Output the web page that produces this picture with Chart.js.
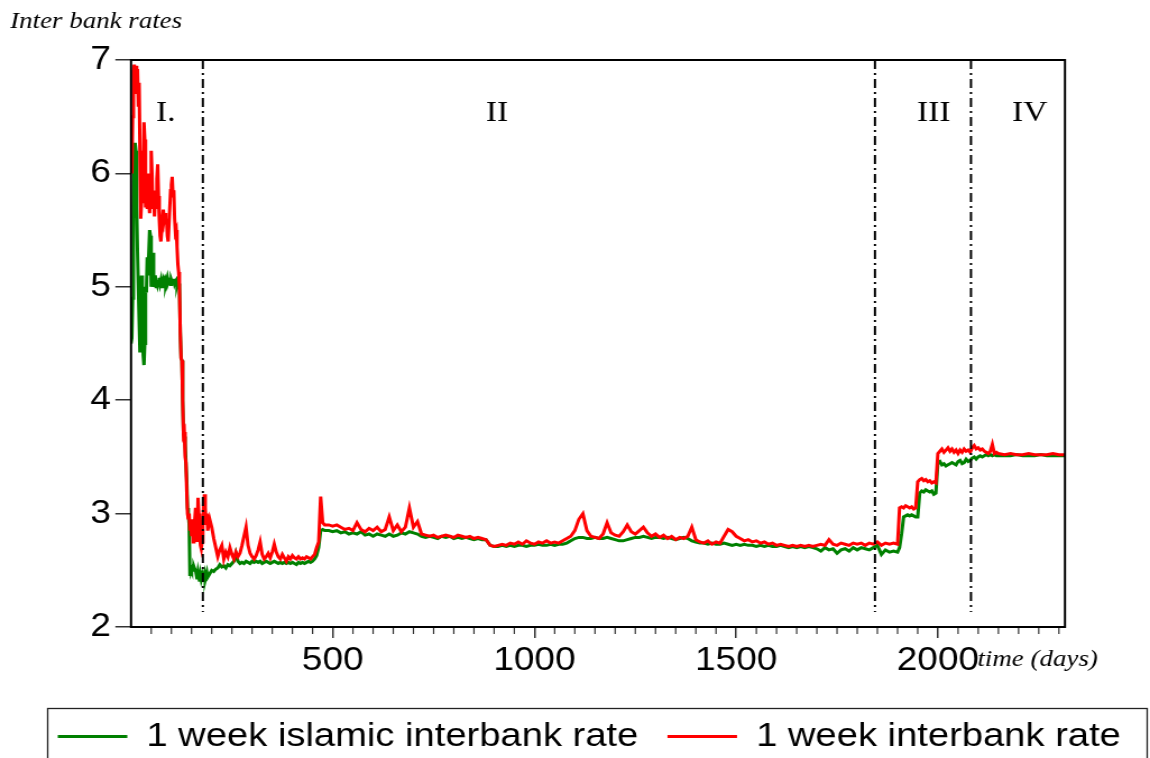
<!DOCTYPE html>
<html>
<head>
<meta charset="utf-8">
<script src="https://cdn.jsdelivr.net/npm/chart.js@4.4.0/dist/chart.umd.min.js"></script>
<style>
    html, body { margin: 0; padding: 0; background: #fff; overflow: hidden; }
</style>
</head>
<body>
<canvas id="graficoTaxas" width="1025" height="758" style="width:1150px;height:758px;display:block"></canvas>
<script>
// dias de cada período (eixo x)
const diasI = [
    0,2,4,6,8,10,12,14,16,18,20,22,24,26,28,30,
    32,34,36,38,40,42,44,46,48,50,52,54,56,58,60,62,
    64,66,68,70,72,74,76,78,80,82,84,86,88,90,92,94,
    96,98,100,102,104,106,108,110,112,114,116,118,120,122,124,126,
    128,130,132,134,136,138,140,142,144,146,148,150,152,154,156,158,
    160,162,164,166,168,170,172,174,176,178,180,182,184,186,188,190
];
const diasIIa = [
    195,200,205,210,215,220,225,230,235,240,245,250,255,260,265,270,
    275,280,285,290,295,300,305,310,315,320,325,330,335,340,345,350,
    355,360,365,370,375,380,385,390,395,400,405,410,415,420,425,430,
    435,440,445,450,455,460,465,470,475,480
];
const diasIIb = [
    490,500,510,520,530,540,550,560,570,580,
    590,600,610,620,630,640,650,660,670,680,
    690,700,710,720,730,740,750,760,770,780,
    790,800,810,820,830,840,850,860,870,880,
    890,900,910,920,930,940,950,960,970,980,
    990,1000,1010,1020,1030,1040,1050,1060,1070,1080,
    1090,1100,1110,1120,1130,1140,1150,1160,1170,1180,
    1190,1200,1210,1220,1230,1240,1250,1260,1270,1280,
    1290,1300,1310,1320,1330,1340,1350,1360,1370,1380,
    1390,1400,1410,1420,1430,1440,1450,1460,1470,1480,
    1490,1500,1510,1520,1530,1540,1550,1560,1570,1580,
    1590,1600,1610,1620,1630,1640,1650,1660,1670,1680,
    1690,1700,1710,1720,1730,1740,1750,1760,1770,1780,
    1790,1800,1810,1820,1830,1840,1850,1860,1870,1880,
    1890,1900
];
const diasIII = [
    1905,1910,1915,1920,1925,1930,1935,1940,1945,1950,
    1955,1960,1965,1970,1975,1980,1985,1990,1995,2000,
    2005,2010,2015,2020,2025,2030,2035,2040,2045,2050,
    2055,2060,2065,2070,2075,2080,2085,2090,2095,2100,
    2105,2110,2115,2120,2125,2130,2135,2140,2145,2150,
    2165,2180,2195,2210,2225,2240,2255,2270,2285,2300,2315
];

// 1 week islamic interbank rate
const islamicaI = [
    4.50,4.55,4.90,5.60,6.10,6.27,6.20,5.70,5.30,5.00,4.70,4.42,4.90,5.10,4.70,4.40,
    4.31,4.50,5.00,4.95,5.26,5.10,5.30,5.50,5.45,5.00,5.10,5.30,5.00,5.05,5.10,5.00,
    5.06,5.02,5.05,5.08,5.03,5.06,5.00,5.05,5.07,5.04,5.06,5.02,5.05,5.08,5.04,5.06,
    5.05,5.02,5.06,5.04,5.05,5.07,5.03,5.05,5.06,5.02,5.05,5.03,5.00,4.60,4.37,4.35,
    4.00,3.70,3.68,3.62,3.45,3.30,3.05,3.00,2.90,2.45,2.52,2.50,2.52,2.50,2.53,2.51,
    2.50,2.46,2.42,2.48,2.44,2.40,2.46,2.42,2.45,2.40,2.44,2.47,2.42,2.45,2.48,2.44
];
const islamicaIIa = [
    2.47,2.50,2.49,2.51,2.52,2.55,2.53,2.54,2.52,2.55,2.54,2.56,2.58,2.65,2.58,2.56,
    2.57,2.56,2.58,2.57,2.56,2.58,2.57,2.58,2.57,2.58,2.56,2.57,2.58,2.57,2.56,2.57,
    2.58,2.57,2.56,2.57,2.56,2.57,2.56,2.57,2.56,2.57,2.56,2.55,2.57,2.56,2.57,2.56,
    2.57,2.58,2.57,2.58,2.60,2.63,2.70,2.85,2.86,2.85
];
const islamicaIIb = [
    2.85,2.84,2.85,2.83,2.84,2.82,2.83,2.82,2.84,2.81,
    2.82,2.80,2.82,2.81,2.80,2.82,2.80,2.81,2.83,2.82,
    2.84,2.83,2.82,2.80,2.79,2.80,2.79,2.78,2.80,2.79,
    2.80,2.78,2.79,2.78,2.79,2.78,2.77,2.78,2.77,2.77,
    2.72,2.71,2.71,2.72,2.71,2.72,2.71,2.72,2.72,2.71,
    2.72,2.72,2.73,2.72,2.72,2.73,2.72,2.73,2.73,2.74,
    2.76,2.78,2.79,2.79,2.78,2.78,2.79,2.78,2.78,2.79,
    2.78,2.77,2.76,2.76,2.77,2.78,2.79,2.79,2.80,2.79,
    2.78,2.79,2.79,2.78,2.79,2.78,2.77,2.78,2.79,2.78,
    2.76,2.75,2.74,2.74,2.73,2.74,2.73,2.73,2.74,2.73,
    2.72,2.73,2.72,2.73,2.72,2.72,2.71,2.72,2.71,2.72,
    2.71,2.71,2.72,2.71,2.70,2.71,2.70,2.71,2.70,2.71,
    2.70,2.69,2.67,2.70,2.68,2.69,2.65,2.68,2.69,2.67,
    2.70,2.68,2.70,2.69,2.68,2.70,2.72,2.64,2.68,2.66,
    2.67,2.66
];
const islamicaIII = [
    2.70,2.82,2.97,2.98,2.99,2.98,2.99,2.98,2.97,2.97,
    3.18,3.20,3.19,3.21,3.20,3.19,3.20,3.17,3.18,3.45,
    3.46,3.43,3.44,3.42,3.43,3.44,3.45,3.44,3.43,3.46,
    3.47,3.44,3.45,3.48,3.46,3.47,3.49,3.50,3.48,3.50,
    3.51,3.50,3.51,3.52,3.51,3.52,3.51,3.52,3.51,3.51,
    3.51,3.51,3.52,3.51,3.51,3.51,3.52,3.51,3.51,3.51,3.51
];

// 1 week interbank rate
const interbancariaI = [
    6.10,6.00,6.50,6.90,6.96,6.85,6.95,6.70,6.92,6.60,6.80,6.20,5.60,5.75,6.20,5.90,
    6.45,6.30,5.70,5.90,5.70,6.00,5.75,5.65,5.80,6.20,6.00,5.70,5.85,5.62,5.80,5.70,
    5.95,6.08,5.80,5.60,5.45,5.40,5.50,5.62,5.68,5.60,5.65,5.55,5.60,5.45,5.40,5.55,
    5.70,5.85,5.90,5.97,5.80,5.85,5.60,5.48,5.50,5.35,5.20,5.13,5.00,4.60,4.37,4.35,
    4.00,3.70,3.72,3.50,3.45,3.20,3.00,2.95,3.00,2.85,2.95,2.80,2.92,2.75,2.85,2.95,
    3.05,2.90,2.75,3.14,3.00,2.80,2.72,2.69,2.75,2.90,3.10,3.17,3.05,2.90,3.00,2.85
];
const interbancariaIIa = [
    2.95,2.88,2.78,2.70,2.62,2.68,2.72,2.60,2.66,2.62,2.70,2.64,2.60,2.66,2.62,2.65,
    2.72,2.80,2.88,2.72,2.65,2.62,2.60,2.63,2.68,2.75,2.64,2.60,2.62,2.65,2.61,2.66,
    2.73,2.66,2.62,2.60,2.64,2.61,2.58,2.62,2.60,2.63,2.61,2.60,2.62,2.60,2.61,2.60,
    2.62,2.61,2.60,2.62,2.64,2.70,2.75,3.15,2.92,2.90
];
const interbancariaIIb = [
    2.90,2.89,2.90,2.88,2.86,2.87,2.85,2.92,2.86,2.84,
    2.87,2.85,2.88,2.84,2.86,2.97,2.85,2.90,2.84,2.88,
    3.05,2.88,2.93,2.82,2.81,2.80,2.81,2.79,2.80,2.81,
    2.80,2.79,2.81,2.80,2.79,2.80,2.78,2.79,2.78,2.77,
    2.72,2.71,2.72,2.73,2.72,2.74,2.73,2.75,2.73,2.76,
    2.74,2.73,2.75,2.74,2.76,2.74,2.75,2.74,2.76,2.78,
    2.80,2.85,2.95,3.00,2.85,2.80,2.79,2.78,2.82,2.92,
    2.83,2.81,2.80,2.84,2.90,2.84,2.82,2.85,2.88,2.83,
    2.80,2.82,2.79,2.81,2.78,2.80,2.77,2.79,2.78,2.80,
    2.88,2.77,2.75,2.74,2.76,2.73,2.75,2.74,2.80,2.86,
    2.84,2.80,2.78,2.76,2.77,2.75,2.76,2.74,2.75,2.73,
    2.74,2.72,2.73,2.72,2.71,2.72,2.71,2.72,2.71,2.72,
    2.71,2.72,2.73,2.72,2.77,2.73,2.72,2.74,2.73,2.72,
    2.74,2.73,2.74,2.72,2.74,2.73,2.75,2.72,2.74,2.73,
    2.74,2.73
];
const interbancariaIII = [
    3.05,3.06,3.05,3.07,3.06,3.05,3.06,3.04,3.05,3.28,
    3.30,3.31,3.29,3.30,3.28,3.29,3.27,3.28,3.27,3.53,
    3.55,3.57,3.54,3.56,3.58,3.55,3.57,3.54,3.56,3.53,
    3.56,3.54,3.57,3.55,3.56,3.54,3.58,3.60,3.57,3.58,
    3.56,3.57,3.55,3.54,3.53,3.55,3.61,3.53,3.54,3.53,
    3.52,3.53,3.52,3.52,3.53,3.52,3.52,3.52,3.53,3.52,3.52
];

const marcasX = [500, 1000, 1500, 2000];
const quebras = [178, 1844, 2082];
const periodos = ["I.", "II", "III", "IV"];
const posPeriodos = [86, 907, 1990, 2228];

document.addEventListener('DOMContentLoaded', () => {
    const dias = [...diasI, ...diasIIa, ...diasIIb, ...diasIII];
    const islamica = [...islamicaI, ...islamicaIIa, ...islamicaIIb, ...islamicaIII];
    const interbancaria = [...interbancariaI, ...interbancariaIIa, ...interbancariaIIb, ...interbancariaIII];

    const serif = '"Liberation Serif", "Times New Roman", serif';
    const sans = '"Liberation Sans", Arial, sans-serif';

    // linhas de quebra, rótulos dos períodos, moldura, ticks menores
    const marcacoes = {
        id: 'marcacoes',
        afterDatasetsDraw(chart) {
            const { ctx, chartArea: area, scales: { x, y } } = chart;
            ctx.save();
            ctx.strokeStyle = '#000';
            ctx.lineWidth = 2;
            ctx.setLineDash([9, 4, 2, 4]);
            quebras.forEach(d => {
                const px = x.getPixelForValue(d);
                ctx.beginPath();
                ctx.moveTo(px, area.top);
                ctx.lineTo(px, area.bottom - 15);
                ctx.stroke();
            });
            ctx.setLineDash([]);
            ctx.fillStyle = '#000';
            ctx.font = '30px ' + serif;
            ctx.textAlign = 'center';
            ctx.textBaseline = 'alphabetic';
            periodos.forEach((p, i) => {
                ctx.fillText(p, x.getPixelForValue(posPeriodos[i]), y.getPixelForValue(6.46));
            });
            ctx.restore();
        },
        afterDraw(chart) {
            const { ctx, chartArea: area, scales: { x } } = chart;
            ctx.save();
            ctx.strokeStyle = '#333';
            ctx.lineWidth = 1.2;
            for (let d = 50; d < x.max; d += 50) {
                if (d % 500 === 0) continue;
                const px = x.getPixelForValue(d);
                ctx.beginPath();
                ctx.moveTo(px, area.bottom);
                ctx.lineTo(px, area.bottom + 7);
                ctx.stroke();
            }
            ctx.strokeStyle = '#000';
            ctx.lineWidth = 2;
            ctx.strokeRect(area.left, area.top, area.right - area.left, area.bottom - area.top);

            ctx.fillStyle = '#000';
            ctx.font = 'italic 24px ' + serif;
            ctx.textAlign = 'left';
            ctx.textBaseline = 'alphabetic';
            ctx.fillText('time (days)', area.right - 78, area.bottom + 39);

            // caixa da legenda
            ctx.strokeStyle = '#222';
            ctx.lineWidth = 1.3;
            ctx.strokeRect(42.5, 708.5, 980, 80);
            ctx.restore();
        }
    };

    const ctx = document.getElementById("graficoTaxas").getContext("2d");

    new Chart(ctx, {
        type: "line",
        data: {
            datasets: [
                {
                    label: "1 week islamic interbank rate",
                    data: dias.map((d, i) => ({ x: d, y: islamica[i] })),
                    borderColor: "#008000",
                    backgroundColor: "#008000",
                    borderWidth: 3,
                    pointRadius: 0,
                    tension: 0,
                    order: 2
                },
                {
                    label: "1 week interbank rate",
                    data: dias.map((d, i) => ({ x: d, y: interbancaria[i] })),
                    borderColor: "#ff0000",
                    backgroundColor: "#ff0000",
                    borderWidth: 3,
                    pointRadius: 0,
                    tension: 0,
                    order: 1
                }
            ]
        },
        options: {
            responsive: false,
            animation: false,
            devicePixelRatio: 1,
            layout: { padding: { top: 0, left: 9, right: 0, bottom: -5.5 } },
            scales: {
                x: {
                    type: 'linear',
                    min: 0,
                    max: 2315,
                    afterBuildTicks: s => { s.ticks = marcasX.map(v => ({ value: v })); },
                    afterFit: s => { s.height = 66.5; },
                    grid: { drawOnChartArea: false, tickLength: 11, color: '#333', lineWidth: 1.5 },
                    border: { display: false },
                    ticks: {
                        padding: 3,
                        color: '#000',
                        maxRotation: 0,
                        autoSkip: false,
                        font: { family: sans, size: 33 },
                        callback: v => String(v)
                    }
                },
                y: {
                    min: 2,
                    max: 7,
                    afterFit: s => { s.width = 107.8; },
                    grid: { drawOnChartArea: false, tickLength: 14, color: '#333', lineWidth: 1.5 },
                    border: { display: false },
                    ticks: {
                        stepSize: 1,
                        padding: 4,
                        color: '#000',
                        font: { family: sans, size: 33 },
                        callback: v => String(v)
                    }
                },
                yDireito: {
                    type: 'linear',
                    axis: 'y',
                    position: 'right',
                    afterFit: s => { s.width = 75.8; },
                    grid: { display: false },
                    border: { display: false },
                    ticks: { display: false }
                }
            },
            plugins: {
                title: {
                    display: true,
                    text: 'Inter bank rates',
                    align: 'start',
                    color: '#000',
                    font: { family: serif, size: 24, style: 'italic', weight: 'normal' },
                    padding: { top: 7, bottom: 24.2 }
                },
                legend: {
                    position: 'bottom',
                    align: 'end',
                    labels: {
                        usePointStyle: true,
                        pointStyle: 'line',
                        pointStyleWidth: 62,
                        padding: 26,
                        color: '#000',
                        font: { family: sans, size: 34 },
                        sort: (a, b) => a.datasetIndex - b.datasetIndex
                    }
                },
                tooltip: { enabled: false }
            }
        },
        plugins: [marcacoes]
    });
});
</script>
</body>
</html>
